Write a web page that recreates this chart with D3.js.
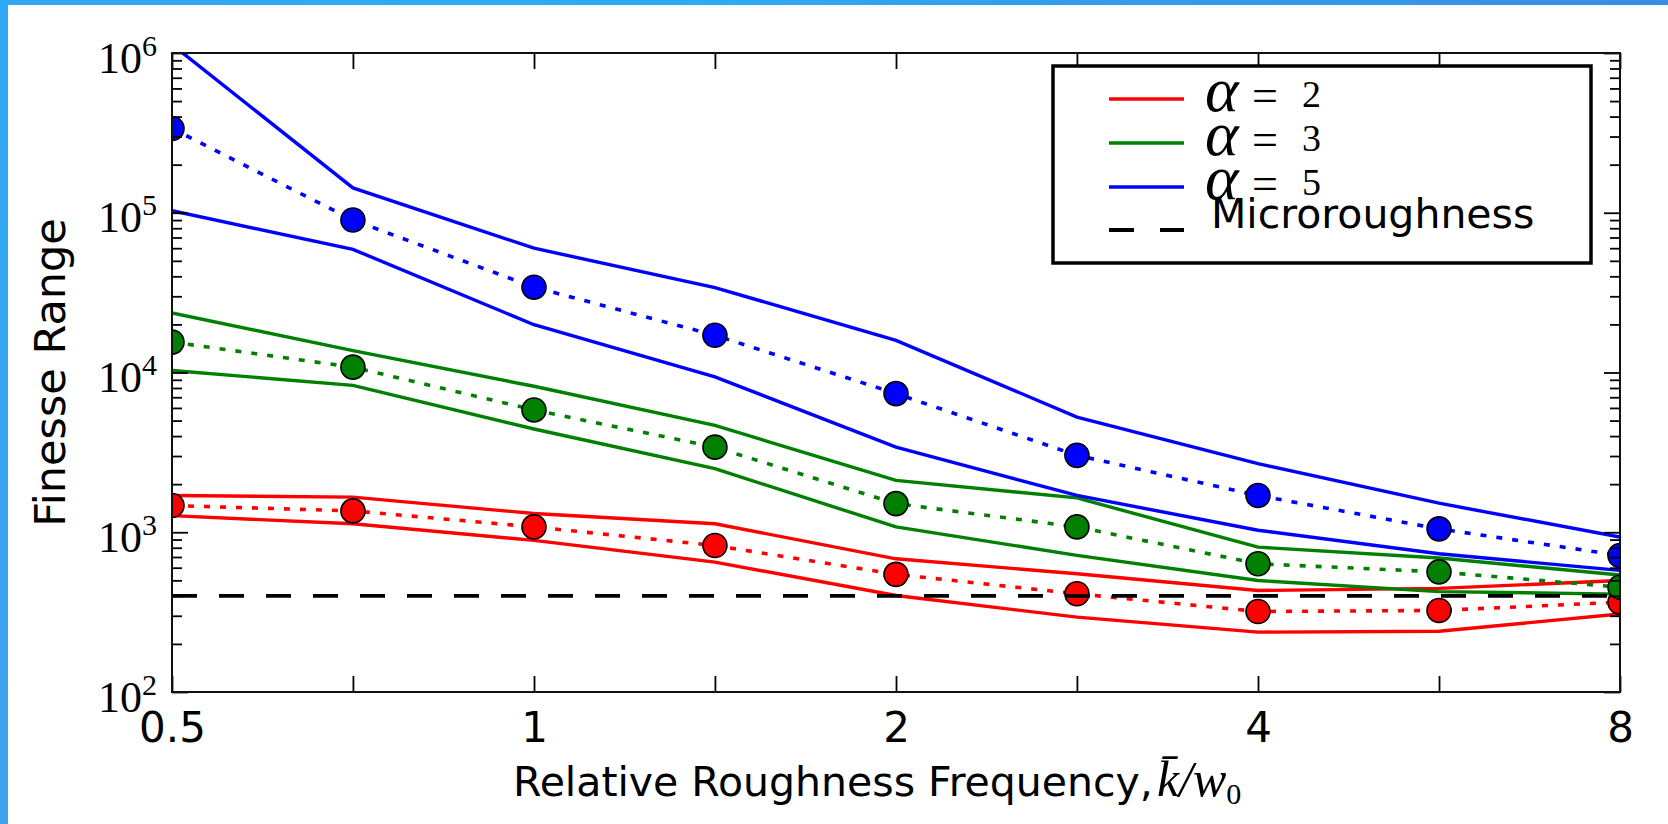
<!DOCTYPE html>
<html>
<head>
  <meta charset="utf-8">
  <title>Finesse Range</title>
  <style type="text/css">
    body { margin: 0; background: #fff; }
    svg { display: block; }
  </style>
</head>
<body>
<div id="chart"></div>
<script src="https://d3js.org/d3.v7.min.js"></script>
<script type="text/javascript">

// relative roughness frequency (half-octave steps)
var freqs = [0.5, 0.707, 1, 1.414, 2, 2.828, 4, 5.657, 8];
var freqLabels = {0.5: "0.5", 1: "1", 2: "2", 4: "4", 8: "8"};
var yDecades = [2, 3, 4, 5, 6];

// alpha = 2
var a2Upper = [1700, 1660, 1310, 1130, 682, 550, 432, 445, 499];
var a2Mean  = [1470, 1360, 1080, 826, 545, 412, 319, 324, 365];
var a2Lower = [1270, 1130, 889, 650, 402, 294, 237, 240, 308];
// alpha = 3
var a3Upper = [23600, 13700, 8200, 4670, 2110, 1640, 807, 690, 540];
var a3Mean  = [15500, 10800, 5830, 3410, 1510, 1080, 635, 565, 453];
var a3Lower = [10300, 8300, 4430, 2500, 1080, 716, 499, 425, 410];
// alpha = 5
var a5Upper = [1130000, 143000, 60000, 34000, 15900, 5260, 2690, 1520, 933];
var a5Mean  = [337000, 90000, 34200, 17100, 7380, 3030, 1700, 1050, 716];
var a5Lower = [103000, 59000, 19900, 9400, 3410, 1700, 1030, 733, 577];

var microroughness = 400;

var alphas = ["2", "3", "5"];
var colors = ["#ff0000", "#007f00", "#0000ff"];

var W = 1668, H = 824;
var pl = 172, pr = 1620, pt = 53, pb = 692;

var svg = d3.select("#chart").append("svg")
    .attr("width", W)
    .attr("height", H);

var defs = svg.append("defs");
var gTop = defs.append("linearGradient").attr("id", "topbar");
gTop.append("stop").attr("offset", "0%").attr("stop-color", "#32a6f3");
gTop.append("stop").attr("offset", "40%").attr("stop-color", "#2eaaf7");
gTop.append("stop").attr("offset", "100%").attr("stop-color", "#3a8ce6");
var gLeft = defs.append("linearGradient").attr("id", "leftbar")
    .attr("x1", 0).attr("y1", 0).attr("x2", 0).attr("y2", 1);
gLeft.append("stop").attr("offset", "0%").attr("stop-color", "#30aaf6");
gLeft.append("stop").attr("offset", "100%").attr("stop-color", "#3fa2ee");

svg.append("rect").attr("x", 0).attr("y", 0).attr("width", W).attr("height", 5).attr("fill", "url(#topbar)");
svg.append("rect").attr("x", 0).attr("y", 0).attr("width", 8).attr("height", H).attr("fill", "url(#leftbar)");

defs.append("clipPath").attr("id", "plotclip")
  .append("rect")
    .attr("x", pl).attr("y", pt)
    .attr("width", pr - pl).attr("height", pb - pt);

var x = d3.scaleLog().base(2)
    .domain([0.5, 8])
    .range([pl, pr]);

var y = d3.scaleLog()
    .domain([1e2, 1e6])
    .range([pb, pt]);

var line = d3.line()
    .x(function(d, i) { return x(freqs[i]); })
    .y(function(d) { return y(d); });

var plot = svg.append("g").attr("clip-path", "url(#plotclip)");

var groups = [
  {upper: a2Upper, mean: a2Mean, lower: a2Lower},
  {upper: a3Upper, mean: a3Mean, lower: a3Lower},
  {upper: a5Upper, mean: a5Mean, lower: a5Lower}
];

groups.forEach(function(g, k) {
  [g.upper, g.lower].forEach(function(vals) {
    plot.append("path")
      .attr("d", line(vals))
      .attr("fill", "none")
      .attr("stroke", colors[k])
      .attr("stroke-width", 3.4);
  });
  plot.append("path")
    .attr("d", line(g.mean))
    .attr("fill", "none")
    .attr("stroke", colors[k])
    .attr("stroke-width", 3.6)
    .attr("stroke-dasharray", "6,10");
  plot.selectAll(null)
    .data(g.mean)
    .enter().append("circle")
      .attr("cx", function(d, i) { return x(freqs[i]); })
      .attr("cy", function(d) { return y(d); })
      .attr("r", 12)
      .attr("fill", colors[k])
      .attr("stroke", "#000")
      .attr("stroke-width", 1.6);
});

plot.append("line")
  .attr("x1", x(0.5)).attr("x2", x(8))
  .attr("y1", y(microroughness)).attr("y2", y(microroughness))
  .attr("stroke", "#000")
  .attr("stroke-width", 3.8)
  .attr("stroke-dasharray", "25,22");

// minor ticks for log y
var minor = [];
yDecades.slice(0, -1).forEach(function(e) {
  for (var m = 2; m <= 9; m++) minor.push(m * Math.pow(10, e));
});
var majors = yDecades.map(function(e) { return Math.pow(10, e); });

function styleAxis(g) {
  g.select(".domain").remove();
  g.selectAll(".tick line").attr("stroke", "#000").attr("stroke-width", 1.8);
}

// bottom
var xb = svg.append("g")
    .attr("transform", "translate(0," + pb + ")")
    .call(d3.axisBottom(x).tickValues(freqs).tickSizeInner(-16).tickSizeOuter(0).tickPadding(20)
      .tickFormat(function(d) { return freqLabels[d] || ""; }));
styleAxis(xb);
xb.selectAll("text")
    .attr("font-family", "'DejaVu Sans', sans-serif")
    .attr("font-size", 42)
    .attr("fill", "#000");

// top
var xt = svg.append("g")
    .attr("transform", "translate(0," + pt + ")")
    .call(d3.axisTop(x).tickValues(freqs).tickSizeInner(-16).tickSizeOuter(0).tickFormat(""));
styleAxis(xt);

// left
var yl = svg.append("g")
    .attr("transform", "translate(" + pl + ",0)")
    .call(d3.axisLeft(y).tickValues(majors).tickSizeInner(-16).tickSizeOuter(0).tickPadding(15)
      .tickFormat(function() { return "10"; }));
styleAxis(yl);
yl.selectAll("text")
    .attr("font-family", "'Liberation Serif', serif")
    .attr("font-size", 44)
    .attr("fill", "#000")
    .attr("dy", 19)
    .each(function(d) {
      d3.select(this).append("tspan")
        .attr("font-size", 30)
        .attr("dy", -17)
        .text(Math.round(Math.log10(d)));
    });
var ylm = svg.append("g")
    .attr("transform", "translate(" + pl + ",0)")
    .call(d3.axisLeft(y).tickValues(minor).tickSizeInner(-10).tickSizeOuter(0).tickFormat(""));
styleAxis(ylm);

// right
var yr = svg.append("g")
    .attr("transform", "translate(" + pr + ",0)")
    .call(d3.axisRight(y).tickValues(majors).tickSizeInner(-16).tickSizeOuter(0).tickFormat(""));
styleAxis(yr);
var yrm = svg.append("g")
    .attr("transform", "translate(" + pr + ",0)")
    .call(d3.axisRight(y).tickValues(minor).tickSizeInner(-10).tickSizeOuter(0).tickFormat(""));
styleAxis(yrm);

// frame
svg.append("rect")
  .attr("x", pl).attr("y", pt)
  .attr("width", pr - pl).attr("height", pb - pt)
  .attr("fill", "none")
  .attr("stroke", "#111")
  .attr("stroke-width", 2);

// axis labels
svg.append("text")
  .attr("transform", "translate(65," + ((pt + pb) / 2) + ") rotate(-90)")
  .attr("text-anchor", "middle")
  .attr("font-family", "'DejaVu Sans', sans-serif")
  .attr("font-size", 43)
  .text("Finesse Range");

var xl = svg.append("text")
  .attr("x", 513).attr("y", 796)
  .attr("font-family", "'DejaVu Sans', sans-serif")
  .attr("font-size", 41);
xl.append("tspan").text("Relative Roughness Frequency,");
xl.append("tspan")
  .attr("font-family", "'Liberation Serif', serif")
  .attr("font-style", "italic")
  .attr("font-size", 50)
  .attr("dx", 4)
  .text("k\u0304/w");
xl.append("tspan")
  .attr("font-family", "'Liberation Serif', serif")
  .attr("font-size", 30)
  .attr("dy", 8)
  .text("0");

// legend
var leg = svg.append("g");
leg.append("rect")
  .attr("x", 1053).attr("y", 66)
  .attr("width", 538).attr("height", 197)
  .attr("fill", "#fff")
  .attr("stroke", "#000")
  .attr("stroke-width", 3.5);

var rowY = [99, 143, 187, 230];
alphas.forEach(function(a, i) {
  leg.append("line")
    .attr("x1", 1109).attr("x2", 1184)
    .attr("y1", rowY[i]).attr("y2", rowY[i])
    .attr("stroke", colors[i])
    .attr("stroke-width", 3.3);
  var t = leg.append("text")
    .attr("x", 1205).attr("y", rowY[i] + 12)
    .attr("font-family", "'Liberation Serif', serif");
  t.append("tspan")
    .attr("font-style", "italic")
    .attr("font-size", 64)
    .text("\u03b1");
  t.append("tspan")
    .attr("x", 1252)
    .attr("font-size", 46)
    .text("=");
  t.append("tspan")
    .attr("x", 1302)
    .attr("dy", -4)
    .attr("font-size", 38)
    .text(a);
});
leg.append("line")
  .attr("x1", 1109).attr("x2", 1184)
  .attr("y1", rowY[3]).attr("y2", rowY[3])
  .attr("stroke", "#000")
  .attr("stroke-width", 3.8)
  .attr("stroke-dasharray", "25,26");
leg.append("text")
  .attr("x", 1211).attr("y", rowY[3] - 2)
  .attr("font-family", "'DejaVu Sans', sans-serif")
  .attr("font-size", 41)
  .text("Microroughness");

</script>
</body>
</html>
